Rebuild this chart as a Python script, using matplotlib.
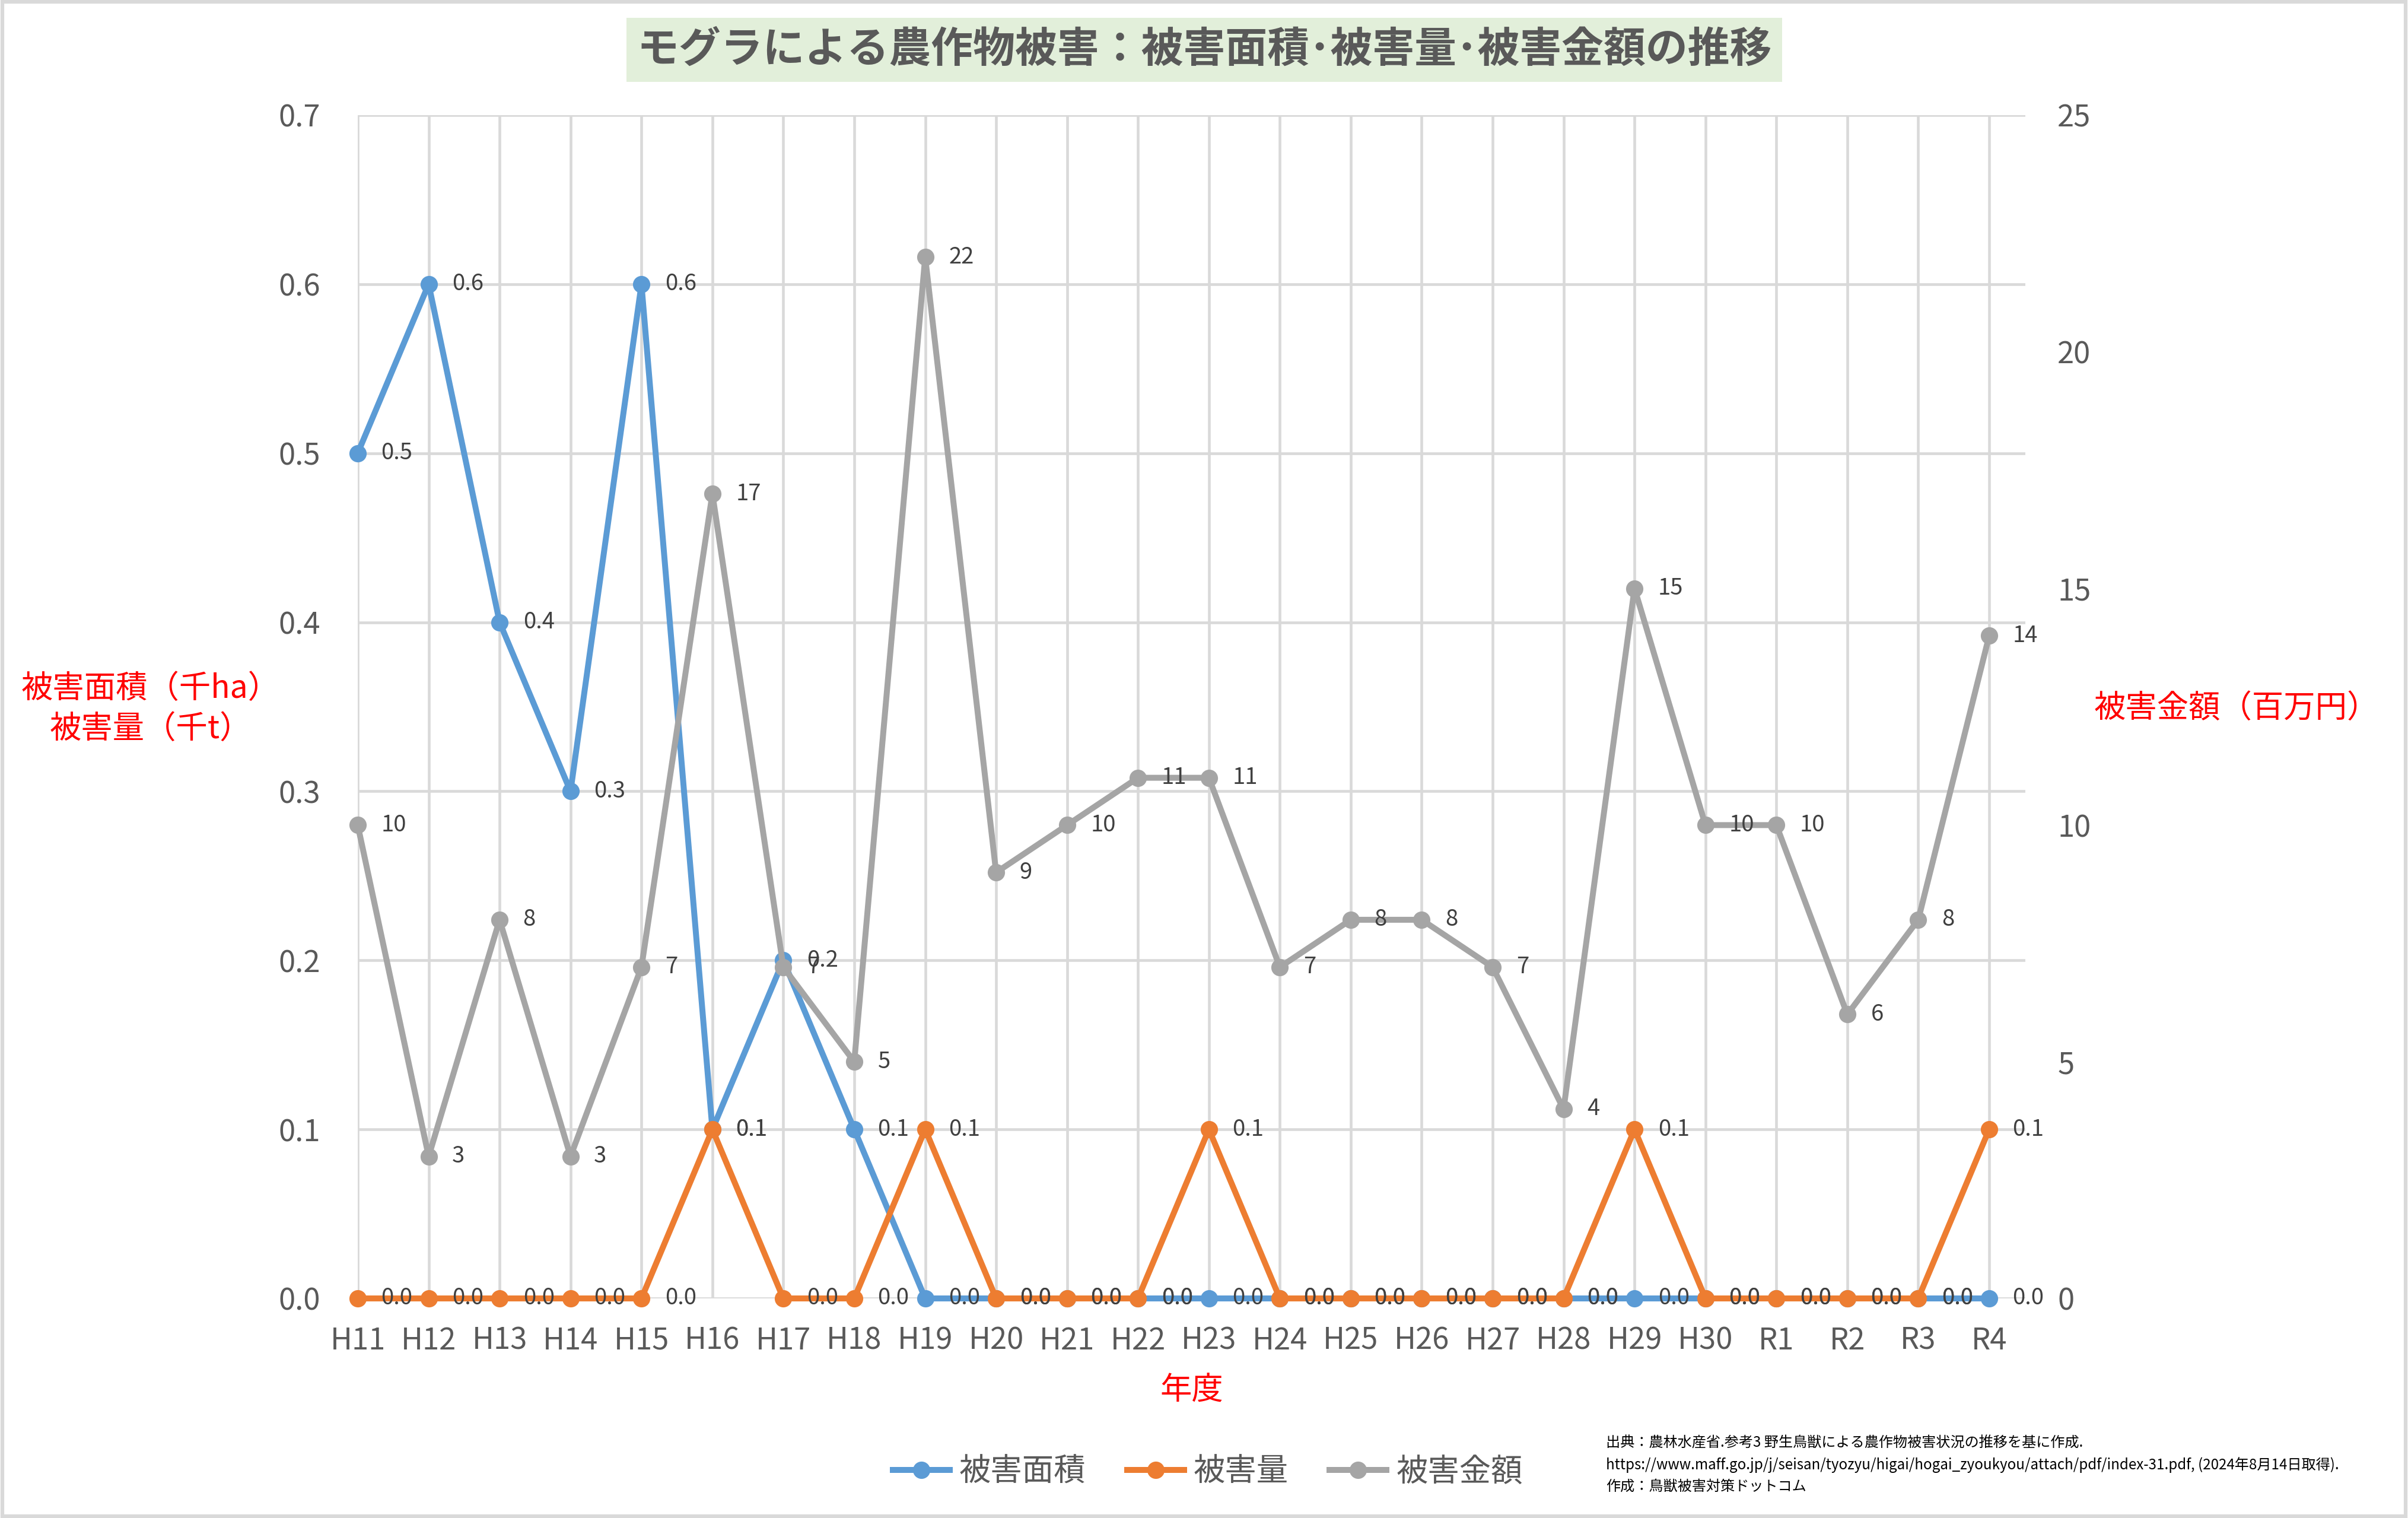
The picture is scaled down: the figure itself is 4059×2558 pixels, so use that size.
import matplotlib
matplotlib.use("Agg")
import matplotlib.pyplot as plt
from matplotlib.patches import Rectangle

plt.rcParams['font.family'] = ['Noto Sans CJK JP', 'DejaVu Sans']

years = ['H11', 'H12', 'H13', 'H14', 'H15', 'H16', 'H17', 'H18', 'H19', 'H20',
         'H21', 'H22', 'H23', 'H24', 'H25', 'H26', 'H27', 'H28', 'H29', 'H30',
         'R1', 'R2', 'R3', 'R4']
# 被害面積 (千ha)
area = [0.5, 0.6, 0.4, 0.3, 0.6, 0.1, 0.2, 0.1, 0.0, 0.0,
        0.0, 0.0, 0.0, 0.0, 0.0, 0.0, 0.0, 0.0, 0.0, 0.0,
        0.0, 0.0, 0.0, 0.0]
# 被害量 (千t)
amount = [0.0, 0.0, 0.0, 0.0, 0.0, 0.1, 0.0, 0.0, 0.1, 0.0,
          0.0, 0.0, 0.1, 0.0, 0.0, 0.0, 0.0, 0.0, 0.1, 0.0,
          0.0, 0.0, 0.0, 0.1]
# 被害金額 (百万円)
money = [10, 3, 8, 3, 7, 17, 7, 5, 22, 9,
         10, 11, 11, 7, 8, 8, 7, 4, 15, 10,
         10, 6, 8, 14]

c_blue = '#5B9BD5'
c_orange = '#ED7D31'
c_gray = '#A5A5A5'
c_tick = '#595959'
c_lbl = '#404040'
red = '#FF0000'

W, H = 4059, 2558
fig = plt.figure(figsize=(W / 300, H / 300), dpi=300)

# light border round the whole chart
fig.patches.append(Rectangle((0.001, 0.001), 0.998, 0.998, transform=fig.transFigure,
                             fill=False, edgecolor='#D9D9D9', lw=1.5))

ax = fig.add_axes([603 / W, 1 - 2188 / H, (3414 - 603) / W, (2188 - 194) / H])
ax2 = ax.twinx()

x = list(range(len(years)))
ax.set_xlim(0, 23.51)
ax.set_ylim(0, 0.7)
ax2.set_ylim(0, 25)

ax.set_yticks([i / 10 for i in range(8)])
ax.set_yticklabels([f'{i / 10:.1f}' for i in range(8)])
ax2.set_yticks(range(0, 26, 5))
ax.set_xticks(x)
ax.set_xticklabels(years)

for a in (ax, ax2):
    for s in a.spines.values():
        s.set_visible(False)
    a.tick_params(length=0, labelsize=12.2, colors=c_tick)
ax.tick_params(axis='y', pad=15)
ax.tick_params(axis='x', pad=11)
ax2.tick_params(axis='y', pad=13)

ax.grid(True, color='#D9D9D9', lw=1.1)
ax.set_axisbelow(True)

lw, ms = 2.4, 6.0
l1, = ax.plot(x, area, color=c_blue, lw=lw, marker='o', ms=ms, zorder=3, clip_on=False)
l2, = ax.plot(x, amount, color=c_orange, lw=lw, marker='o', ms=ms, zorder=4, clip_on=False)
l3, = ax2.plot(x, money, color=c_gray, lw=lw, marker='o', ms=ms, zorder=3, clip_on=False)

for xi, v in zip(x, area):
    ax.annotate(f'{v:.1f}', (xi, v), xytext=(9.5, 0), textcoords='offset points',
                va='center', ha='left', fontsize=9.2, color=c_lbl, zorder=6)
for xi, v in zip(x, amount):
    ax.annotate(f'{v:.1f}', (xi, v), xytext=(9.5, 0), textcoords='offset points',
                va='center', ha='left', fontsize=9.2, color=c_lbl, zorder=6)
for xi, v in zip(x, money):
    ax2.annotate(f'{v}', (xi, v), xytext=(9.5, 0), textcoords='offset points',
                 va='center', ha='left', fontsize=9.2, color=c_lbl, zorder=6)

# title with green box
fig.text(2030 / W, 1 - 84 / H, 'モグラによる農作物被害：被害面積･被害量･被害金額の推移',
         ha='center', va='center', fontsize=17, fontweight='bold', color=c_tick,
         bbox=dict(boxstyle='square,pad=0.25', facecolor='#E2EFDA', edgecolor='none'))

fig.text(254 / W, 1 - 1194 / H, '被害面積（千ha）\n被害量（千t）', ha='center', va='center',
         fontsize=12.8, color=red, linespacing=1.3)
fig.text(3770 / W, 1 - 1193 / H, '被害金額（百万円）', ha='center', va='center',
         fontsize=12.8, color=red)
fig.text(2009 / W, 1 - 2343 / H, '年度', ha='center', va='center', fontsize=12.8, color=red)

fig.legend([l1, l2, l3], ['被害面積', '被害量', '被害金額'], loc='center',
           bbox_to_anchor=(2036 / W, 1 - 2480 / H), ncol=3, frameon=False,
           fontsize=12.8, labelcolor=c_tick, handlelength=1.8, handletextpad=0.3,
           columnspacing=1.3)

src = ('出典：農林水産省.参考3 野生鳥獣による農作物被害状況の推移を基に作成.\n'
       'https://www.maff.go.jp/j/seisan/tyozyu/higai/hogai_zyoukyou/attach/pdf/index-31.pdf, (2024年8月14日取得).\n'
       '作成：鳥獣被害対策ドットコム')
fig.text(2707 / W, 1 - 2468 / H, src, ha='left', va='center', fontsize=5.8,
         color='#000000', linespacing=1.5)

plt.savefig('out.png', dpi=300)
